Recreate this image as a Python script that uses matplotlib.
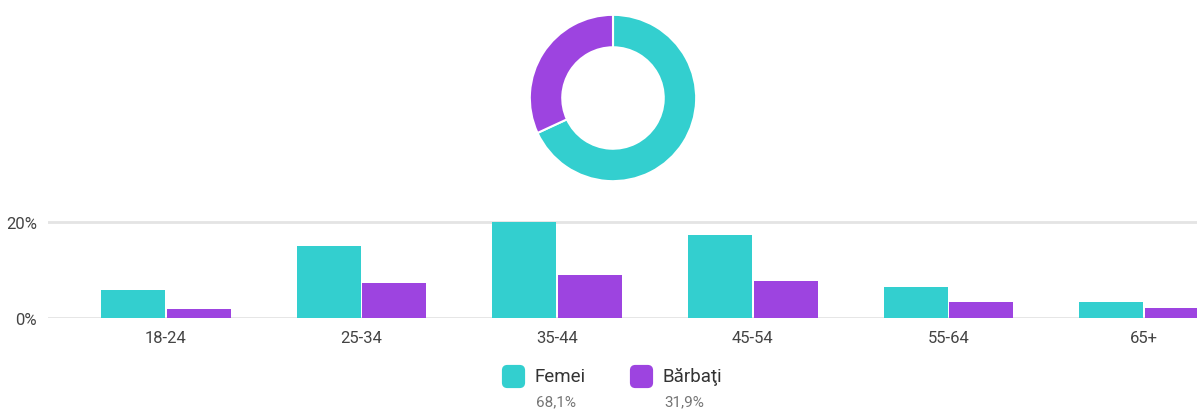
import matplotlib
matplotlib.use("Agg")
import matplotlib.pyplot as plt
from matplotlib.patches import FancyBboxPatch
import numpy as np

plt.rcParams['font.family'] = ['Roboto', 'DejaVu Sans']

categories = ['18-24', '25-34', '35-44', '45-54', '55-64', '65+']
femei = [5.8, 15.1, 20.1, 17.2, 6.4, 3.3]
barbati = [1.9, 7.3, 9.0, 7.7, 3.4, 2.1]
series_names = ['Femei', 'Bărbaţi']
totals = [68.1, 31.9]
total_labels = ['68,1%', '31,9%']
yticks = [0, 20]
ytick_labels = ['0%', '20%']

TEAL = '#33cfcf'
PURPLE = '#9d44e0'
W, H = 1197, 410

fig = plt.figure(figsize=(W / 100, H / 100), dpi=100)

# ---- bar chart ----
ax = fig.add_axes([48 / W, 91 / H, 1 - 48 / W, 105.6 / H])
x = np.arange(len(categories))
bw = 0.327
ax.bar(x - 0.168, femei, width=bw, color=TEAL, zorder=3, clip_on=False)
ax.bar(x + 0.168, barbati, width=bw, color=PURPLE, zorder=3, clip_on=False)
ax.set_xlim(-0.603, 5.271)
ax.set_ylim(0, 22)
ax.set_yticks(yticks)
ax.set_yticklabels(ytick_labels)
ax.set_xticks(x)
ax.set_xticklabels(categories)
for s in ax.spines.values():
    s.set_visible(False)
ax.tick_params(axis='both', length=0, labelsize=12, labelcolor='#444444')
ax.tick_params(axis='x', pad=9)
ax.tick_params(axis='y', pad=8)
for yv in yticks:
    ax.axhline(yv, color='#e4e4e4', lw=2, zorder=1)

# ---- donut ----
r = 84
axp = fig.add_axes([(613 - r) / W, (H - 99 - r) / H, 2 * r / W, 2 * r / H])
axp.pie(totals, colors=[TEAL, PURPLE], startangle=90, counterclock=False,
        radius=1, wedgeprops=dict(width=0.39, edgecolor='white', linewidth=1.5))
axp.set_xlim(-1.01, 1.01)
axp.set_ylim(-1.01, 1.01)
axp.set_aspect('equal')
axp.axis('off')

# ---- legend ----
leg_x = [503, 631]
for lx, name, lab, col in zip(leg_x, series_names, total_labels, [TEAL, PURPLE]):
    sq = FancyBboxPatch(((lx + 2) / W, (H - 386) / H), 17 / W, 17 / H,
                        boxstyle='round,pad=0.002,rounding_size=0.004',
                        transform=fig.transFigure, color=col, mutation_aspect=W / H)
    fig.patches.append(sq)
    fig.text((lx + 32) / W, (H - 377) / H, name, fontsize=13.5, color='#333333',
             ha='left', va='center')
    fig.text((lx + 33) / W, (H - 402) / H, lab, fontsize=11, color='#757575',
             ha='left', va='center')

fig.savefig('out.png', dpi=100)
